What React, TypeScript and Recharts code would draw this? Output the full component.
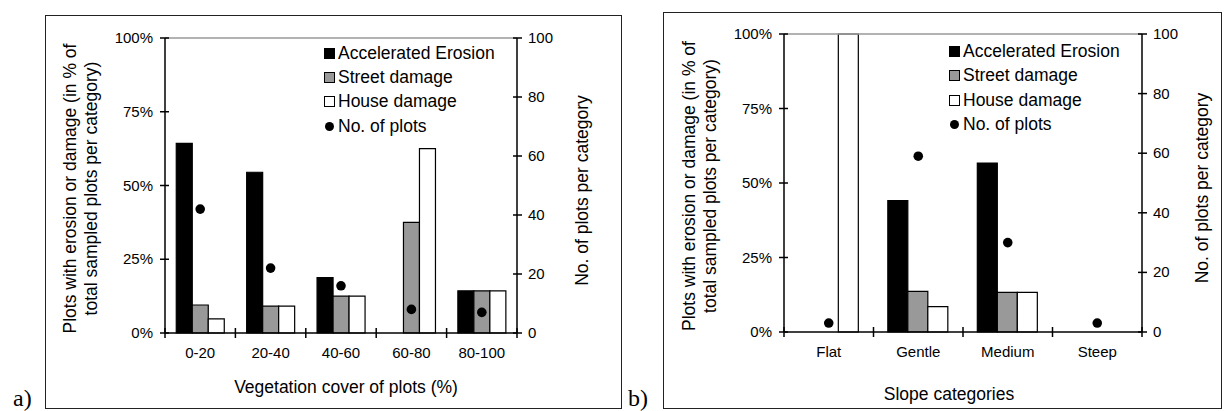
import React from 'react';
import { ComposedChart, Bar, Scatter, XAxis, YAxis, ReferenceLine, Legend } from 'recharts';

// a) vegetation cover
const vegCategories = ['0-20', '20-40', '40-60', '60-80', '80-100'];
const vegErosion = [64.3, 54.5, 18.75, 0, 14.3];
const vegStreet = [9.5, 9.1, 12.5, 37.5, 14.3];
const vegHouse = [4.8, 9.1, 12.5, 62.5, 14.3];
const vegPlots = [42, 22, 16, 8, 7];

// b) slope
const slopeCategories = ['Flat', 'Gentle', 'Medium', 'Steep'];
const slopeErosion = [0, 44.1, 56.7, 0];
const slopeStreet = [0, 13.6, 13.3, 0];
const slopeHouse = [100, 8.5, 13.3, 0];
const slopePlots = [3, 59, 30, 3];

const percentTicks = [0, 25, 50, 75, 100];
const countTicks = [0, 20, 40, 60, 80, 100];

const FONT = '"Liberation Sans", Arial, sans-serif';
const GREY = '#999999';
const TITLE_SIZE = 17.5;

const legendItems = [
  { name: 'Accelerated Erosion', fill: '#000', dot: false },
  { name: 'Street damage', fill: GREY, dot: false },
  { name: 'House damage', fill: '#fff', dot: false },
  { name: 'No. of plots', fill: '#000', dot: true },
];

const LegendBox = () => (
  <div style={{ fontFamily: FONT, fontSize: 17.5, color: '#000' }}>
    {legendItems.map(it => (
      <div key={it.name} style={{ display: 'flex', alignItems: 'center', height: 24.3, whiteSpace: 'nowrap' }}>
        <span
          style={{
            display: 'inline-block',
            width: it.dot ? 9 : 11,
            height: it.dot ? 9 : 11,
            margin: it.dot ? '0 1px 0 1px' : 0,
            boxSizing: 'border-box',
            border: it.dot ? 'none' : '1px solid #000',
            borderRadius: it.dot ? '50%' : 0,
            background: it.fill,
          }}
        />
        <span style={{ marginLeft: 3 }}>{it.name}</span>
      </div>
    ))}
  </div>
);

const LeftTick = (p: any) => (
  <g>
    <line x1={p.x - 5} x2={p.x + 4} y1={p.y} y2={p.y} stroke="#000" strokeWidth={1.5} />
    <text x={p.x - 12} y={p.y} dy={5} textAnchor="end" fontSize={15} fontFamily={FONT} fill="#000">
      {p.payload.value}%
    </text>
  </g>
);

const RightTick = (p: any) => (
  <g>
    <line x1={p.x - 4} x2={p.x + 5} y1={p.y} y2={p.y} stroke="#000" strokeWidth={1.5} />
    <text x={p.x + 11} y={p.y} dy={5} textAnchor="start" fontSize={15} fontFamily={FONT} fill="#000">
      {p.payload.value}
    </text>
  </g>
);

const makeXTick = (half: number, count: number) => (p: any) => (
  <g>
    <line x1={p.x - half} x2={p.x - half} y1={p.y - 5} y2={p.y + 5} stroke="#000" strokeWidth={1.5} />
    {p.index === count - 1 && (
      <line x1={p.x + half} x2={p.x + half} y1={p.y - 5} y2={p.y + 5} stroke="#000" strokeWidth={1.5} />
    )}
    <text x={p.x} y={p.y} dy={25} textAnchor="middle" fontSize={15} fontFamily={FONT} fill="#000">
      {p.payload.value}
    </text>
  </g>
);

type PanelProps = {
  tag: string;
  categories: string[];
  erosion: number[];
  street: number[];
  house: number[];
  plots: number[];
  xTitle: string;
  xTitleOffset: number;
  xTitleShift: number;
  rightTitleGap: number;
  box: { left: number; top: number; width: number; height: number };
  m: { left: number; right: number; top: number; bottom: number };
  legendPos: { left: number; top: number };
  tagPos: { left: number; top: number };
};

const Panel = ({
  tag, categories, erosion, street, house, plots, xTitle, xTitleOffset, xTitleShift, rightTitleGap, box, m, legendPos, tagPos,
}: PanelProps) => {
  const data = categories.map((c, i) => ({
    cat: c,
    erosion: erosion[i],
    street: street[i],
    house: house[i],
    plots: plots[i],
  }));
  const plotW = box.width - m.left - m.right;
  const plotH = box.height - m.top - m.bottom;
  const half = plotW / categories.length / 2;
  const midLeft = m.top + plotH / 2 + 3;
  const midRight = m.top + plotH / 2 + 5;

  return (
    <>
      <div
        style={{
          position: 'absolute',
          left: tagPos.left,
          top: tagPos.top,
          fontFamily: '"Liberation Serif", "Times New Roman", serif',
          fontSize: 24,
          lineHeight: '24px',
        }}
      >
        {tag}
      </div>
      <div style={{ position: 'absolute', left: box.left, top: box.top, width: box.width, height: box.height }}>
        <div
          style={{
            position: 'absolute',
            inset: 0,
            border: '1.5px solid #222',
            boxSizing: 'border-box',
            pointerEvents: 'none',
          }}
        />
        <ComposedChart
          width={box.width}
          height={box.height}
          data={data}
          margin={{ top: m.top, right: 0, left: 0, bottom: 0 }}
          barCategoryGap="16%"
          barGap={0}
        >
          <XAxis
            dataKey="cat"
            height={m.bottom}
            interval={0}
            tickSize={0}
            tickMargin={0}
            tickLine={false}
            axisLine={{ stroke: '#000', strokeWidth: 1.5 }}
            tick={makeXTick(half, categories.length)}
            label={{
              content: (props: any) => {
                const vb = props.viewBox;
                return (
                  <text
                    x={vb.x + vb.width / 2 + xTitleShift}
                    y={vb.y + xTitleOffset}
                    textAnchor="middle"
                    fontSize={TITLE_SIZE}
                    fontFamily={FONT}
                    fill="#000"
                  >
                    {xTitle}
                  </text>
                );
              },
            }}
          />
          <YAxis
            yAxisId="left"
            orientation="left"
            width={m.left}
            domain={[0, 100]}
            ticks={percentTicks}
            interval={0}
            tickSize={0}
            tickMargin={0}
            tickLine={false}
            axisLine={{ stroke: '#000', strokeWidth: 1.5 }}
            tick={<LeftTick />}
            label={{
              content: (props: any) => {
                const vb = props.viewBox;
                const ax = vb.x + vb.width;
                return (
                  <g fontSize={TITLE_SIZE} fontFamily={FONT} fill="#000">
                    <text x={ax - 95} y={midLeft} transform={`rotate(-90 ${ax - 95} ${midLeft})`} textAnchor="middle" dominantBaseline="central">
                      Plots with erosion or damage (in % of
                    </text>
                    <text x={ax - 74} y={midLeft} transform={`rotate(-90 ${ax - 74} ${midLeft})`} textAnchor="middle" dominantBaseline="central">
                      total sampled plots per category)
                    </text>
                  </g>
                );
              },
            }}
          />
          <YAxis
            yAxisId="right"
            orientation="right"
            width={m.right}
            domain={[0, 100]}
            ticks={countTicks}
            interval={0}
            tickSize={0}
            tickMargin={0}
            tickLine={false}
            axisLine={{ stroke: '#000', strokeWidth: 1.5 }}
            tick={<RightTick />}
            label={{
              content: (props: any) => {
                const vb = props.viewBox;
                const tx = vb.x + rightTitleGap;
                return (
                  <text
                    x={tx}
                    y={midRight}
                    transform={`rotate(-90 ${tx} ${midRight})`}
                    textAnchor="middle"
                    dominantBaseline="central"
                    fontSize={TITLE_SIZE}
                    fontFamily={FONT}
                    fill="#000"
                  >
                    No. of plots per category
                  </text>
                );
              },
            }}
          />
          <ReferenceLine yAxisId="left" y={100} stroke={GREY} strokeWidth={1.5} />
          <Bar yAxisId="left" dataKey="erosion" name="Accelerated Erosion" fill="#000" stroke="#000" strokeWidth={1.2} isAnimationActive={false} />
          <Bar yAxisId="left" dataKey="street" name="Street damage" fill={GREY} stroke="#000" strokeWidth={1.2} isAnimationActive={false} />
          <Bar yAxisId="left" dataKey="house" name="House damage" fill="#fff" stroke="#000" strokeWidth={1.2} isAnimationActive={false} />
          <Scatter
            yAxisId="right"
            dataKey="plots"
            name="No. of plots"
            fill="#000"
            isAnimationActive={false}
            shape={(p: any) => <circle cx={p.cx} cy={p.cy} r={4.8} fill="#000" />}
          />
          <Legend
            layout="vertical"
            align="center"
            verticalAlign="middle"
            wrapperStyle={{ left: legendPos.left, top: legendPos.top, width: 200, height: 'auto' }}
            content={() => <LegendBox />}
          />
        </ComposedChart>
      </div>
    </>
  );
};

export default function App() {
  return (
    <div style={{ position: 'absolute', left: 0, top: 0, width: 1226, height: 411, background: '#fff', fontFamily: FONT }}>
      <Panel
        tag="a)"
        categories={vegCategories}
        erosion={vegErosion}
        street={vegStreet}
        house={vegHouse}
        plots={vegPlots}
        xTitle="Vegetation cover of plots (%)"
        xTitleOffset={60}
        xTitleShift={5}
        rightTitleGap={65}
        box={{ left: 45, top: 15, width: 577, height: 394 }}
        m={{ left: 120, right: 105, top: 23, bottom: 76 }}
        legendPos={{ left: 279, top: 26 }}
        tagPos={{ left: 13, top: 386 }}
      />
      <Panel
        tag="b)"
        categories={slopeCategories}
        erosion={slopeErosion}
        street={slopeStreet}
        house={slopeHouse}
        plots={slopePlots}
        xTitle="Slope categories"
        xTitleOffset={68}
        xTitleShift={-14}
        rightTitleGap={60}
        box={{ left: 663, top: 12, width: 559, height: 397 }}
        m={{ left: 121, right: 80, top: 22, bottom: 77 }}
        legendPos={{ left: 286, top: 27.5 }}
        tagPos={{ left: 628, top: 386 }}
      />
    </div>
  );
}
